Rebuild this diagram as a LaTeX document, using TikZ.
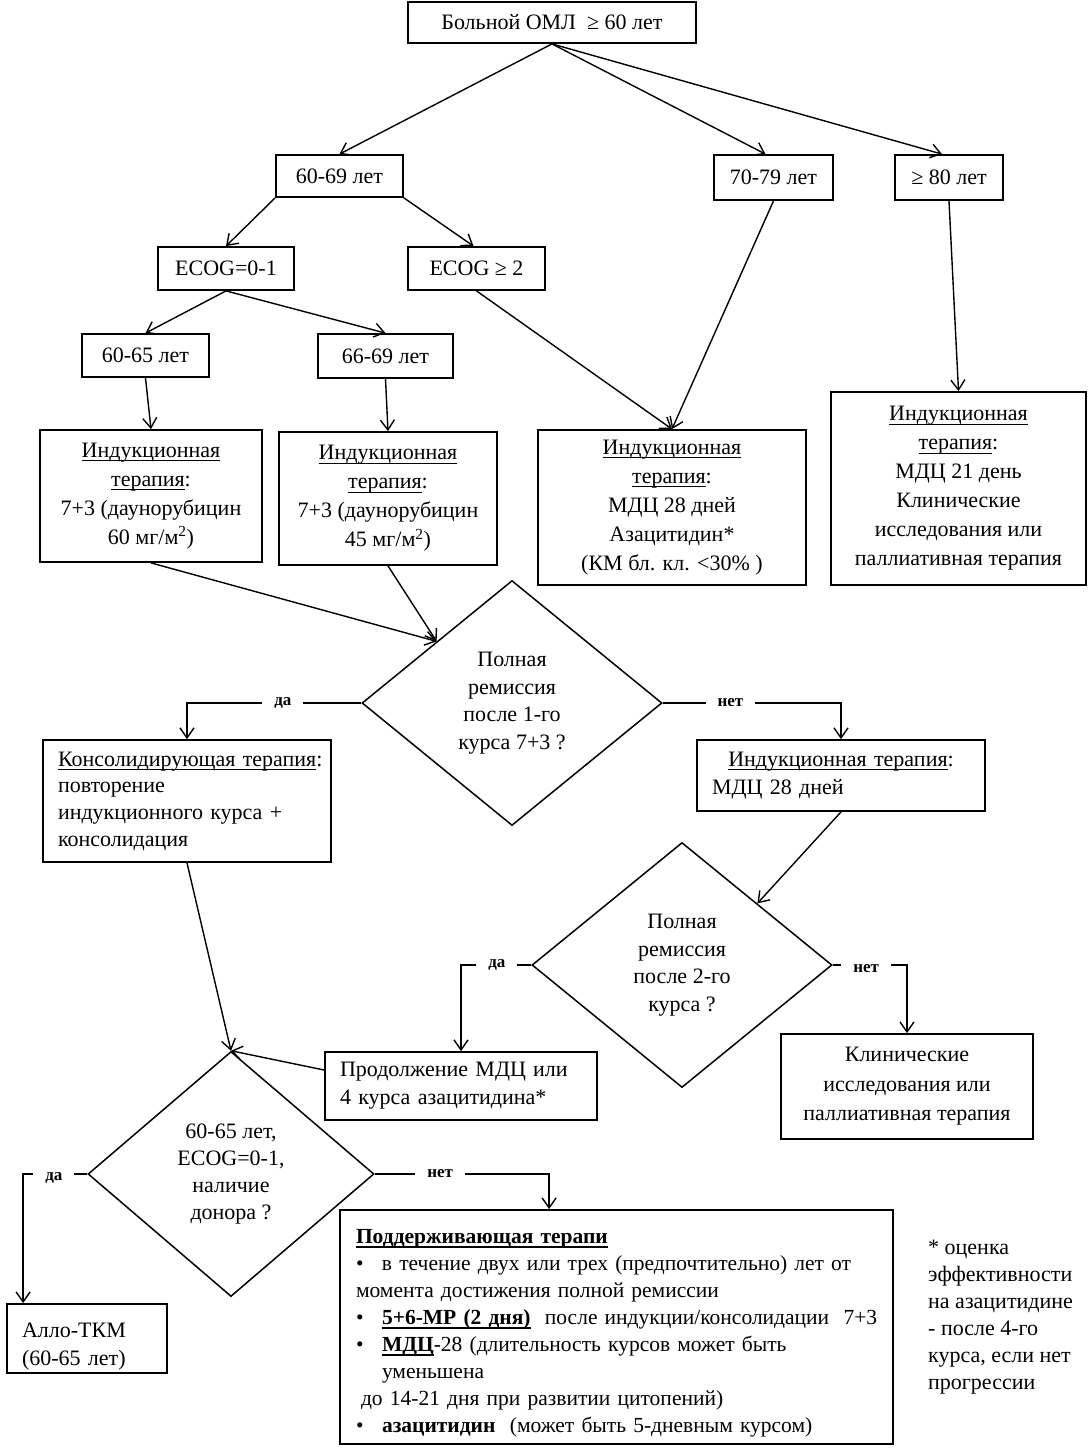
\documentclass[tikz,border=0pt]{standalone}
\usepackage{fontspec}
\setmainfont{Liberation Serif}
\usetikzlibrary{shapes.geometric,arrows.meta}
\newsavebox\undlbox
\newcommand\undl[1]{\sbox\undlbox{#1}\rlap{\rule[-4pt]{\wd\undlbox}{1.1pt}}\usebox\undlbox}
\newcommand\undlb[1]{\sbox\undlbox{#1}\rlap{\rule[-4.4pt]{\wd\undlbox}{1.6pt}}\usebox\undlbox}
\tikzset{
  box/.style={draw, line width=1.8pt, rectangle, inner sep=0pt, align=center,
    font=\fontsize{22}{29}\selectfont},
  dia/.style={draw, diamond, line width=1.5pt, inner sep=0pt, align=center,
    font=\fontsize{22}{27.5}\selectfont},
  conn/.style={line width=1.4pt, -{Straight Barb[length=10pt,width=14pt]}},
  yn/.style={line width=2pt, line join=miter, -{Straight Barb[length=10pt,width=14pt,line width=1.4pt]}},
  lbl/.style={fill=white, inner xsep=12pt, inner ysep=1pt,
    font=\fontsize{17}{17}\selectfont\bfseries},
}
\begin{document}
\begin{tikzpicture}[x=1pt,y=-1pt]
\useasboundingbox (0,0) rectangle (1090,1452);
% top level
\node[box, minimum width=288pt, minimum height=41pt] (top) at (552,22.5) {Больной ОМЛ\ \ ≥ 60 лет};
\node[box, minimum width=127pt, minimum height=42pt] (a6069) at (339.5,176) {60-69 лет};
\node[box, minimum width=119pt, minimum height=45pt] (a7079) at (773.5,177.5) {70-79 лет};
\node[box, minimum width=108pt, minimum height=45pt] (a80) at (949,177.5) {≥ 80 лет};
\node[box, minimum width=136pt, minimum height=43pt] (ecog01) at (226,268.5) {ECOG=0-1};
\node[box, minimum width=137pt, minimum height=43pt] (ecog2) at (476.5,268.5) {ECOG ≥ 2};
\node[box, minimum width=127pt, minimum height=43pt] (a6065) at (145.5,355.5) {60-65 лет};
\node[box, minimum width=135pt, minimum height=44pt] (a6669) at (385.5,356) {66-69 лет};
% induction boxes
\node[box, minimum width=222pt, minimum height=132pt] (ind1) at (151,496)
  {\undl{Индукционная}\\\undl{терапия}:\\7+3 (даунорубицин\\60 мг/м\textsuperscript{2})};
\node[box, minimum width=218pt, minimum height=133pt] (ind2) at (388,498.5)
  {\undl{Индукционная}\\\undl{терапия}:\\7+3 (даунорубицин\\45 мг/м\textsuperscript{2})};
\node[box, minimum width=268pt, minimum height=155pt] (ind3) at (672,507.5)
  {\undl{Индукционная}\\\undl{терапия}:\\МДЦ 28 дней\\Азацитидин*\\(КМ бл. кл. <30\% )};
\node[box, minimum width=255pt, minimum height=193pt] (ind4) at (958.5,488.5)
  {\undl{Индукционная}\\\undl{терапия}:\\МДЦ 21 день\\Клинические\\исследования или\\паллиативная терапия};
% first decision
\node[dia, minimum width=300pt, minimum height=245pt] (d1) at (512,703)
  {Полная\\ремиссия\\после 1-го\\курса 7+3 ?};
\node[box, minimum width=288pt, minimum height=122pt, text width=258pt, inner xsep=15pt,
  align=left, font=\fontsize{22}{26.7}\selectfont] (cons) at (187,801)
  {\mbox{\undl{Консолидирующая терапия}:}\\повторение\\\mbox{индукционного курса +}\\консолидация};
\node[box, minimum width=288pt, minimum height=71pt, text width=258pt, inner xsep=15pt,
  align=left, font=\fontsize{22}{28}\selectfont] (indm) at (841,775.5)
  {\makebox[258pt][c]{\undl{Индукционная терапия}:}\\МДЦ 28 дней};
% second decision
\node[dia, minimum width=300pt, minimum height=245pt] (d2) at (682,965)
  {Полная\\ремиссия\\после 2-го\\курса ?};
\node[box, minimum width=272pt, minimum height=68pt, text width=242pt, inner xsep=15pt,
  align=left, font=\fontsize{22}{28}\selectfont] (prod) at (461,1086)
  {\mbox{Продолжение МДЦ или}\\\mbox{4 курса азацитидина*}};
\node[box, minimum width=252pt, minimum height=105pt, font=\fontsize{22}{29.5}\selectfont] (clin) at (907,1086.5)
  {Клинические\\исследования или\\паллиативная терапия};
% third decision
\node[dia, minimum width=286pt, minimum height=245pt, font=\fontsize{22}{26.7}\selectfont] (d3) at (231,1174)
  {60-65 лет,\\ECOG=0-1,\\наличие\\донора ?};
\node[box, minimum width=160pt, minimum height=69pt, text width=130pt, inner xsep=15pt,
  align=left, font=\fontsize{22}{28}\selectfont] (allo) at (87,1338.5)
  {\rule{0pt}{31pt}Алло-ТКМ\\(60-65 лет)};
\node[box, minimum width=553pt, minimum height=234pt, text width=521pt, inner xsep=16pt,
  align=left, font=\fontsize{21.5}{27}\selectfont] (supp) at (616.5,1327)
  {\mbox{\rule{0pt}{26pt}\textbf{\undlb{Поддерживающая терапи}}}\\
   \mbox{\makebox[26pt][l]{•}в течение двух или трех (предпочтительно) лет от}\\
   \mbox{момента достижения полной ремиссии}\\
   \mbox{\makebox[26pt][l]{•}\textbf{\undlb{5+6-МР (2 дня)}}\ \ после индукции/консолидации\ \ 7+3}\\
   \mbox{\makebox[26pt][l]{•}\textbf{\undlb{МДЦ}}-28 (длительность курсов может быть}\\
   \mbox{\hspace*{26pt}уменьшена}\\
   \mbox{\hspace*{5pt}до 14-21 дня при развитии цитопений)}\\
   \mbox{\makebox[26pt][l]{•}\textbf{азацитидин}\ \ (может быть 5-дневным курсом)}};
\node[align=left, anchor=north west, inner sep=0pt, font=\fontsize{22}{27}\selectfont] (note) at (928,1240)
  {* оценка\\эффективности\\на азацитидине\\- после 4-го\\курса, если нет\\прогрессии};
% connectors
\draw[conn] (top.south) -- (a6069.north);
\draw[conn] (top.south) -- ([xshift=-8pt]a7079.north);
\draw[conn] (top.south) -- ([xshift=-7pt]a80.north);
\draw[conn] (a6069.south west) -- (ecog01.north);
\draw[conn] (a6069.south east) -- ([xshift=-3pt]ecog2.north);
\draw[conn] (ecog01.south) -- (a6065.north);
\draw[conn] (ecog01.south) -- (a6669.north);
\draw[conn] (a6065.south) -- (ind1.north);
\draw[conn] (a6669.south) -- (ind2.north);
\draw[conn] (ecog2.south) -- (ind3.north);
\draw[conn] (a7079.south) -- (ind3.north);
\draw[conn] (a80.south) -- (ind4.north);
\draw[conn] (ind1.south) -- (d1.north west);
\draw[conn] (ind2.south) -- (d1.north west);
\draw[yn] (d1.west) -- node[lbl,pos=0.45]{да} (d1.west -| cons.north) -- (cons.north);
\draw[yn] (d1.east) -- node[lbl,pos=0.38]{нет} (d1.east -| indm.north) -- (indm.north);
\draw[conn] (indm.south) -- (d2.north east);
\draw[yn] (d2.west) -- node[lbl,pos=0.49]{да} (d2.west -| prod.north) -- (prod.north);
\draw[yn] (d2.east) -- node[lbl,pos=0.45,yshift=-4pt]{нет} (d2.east -| clin.north) -- (clin.north);
\draw[conn] (cons.south) -- (d3.north);
\draw[conn] ([yshift=16pt]prod.west) -- (d3.north);
\coordinate (alloin) at ([xshift=17pt]allo.north west);
\draw[yn] (d3.west) -- node[lbl,pos=0.52,yshift=-4pt]{да} (d3.west -| alloin) -- (alloin);
\coordinate (suppin) at ([xshift=210pt]supp.north west);
\draw[yn] (d3.east) -- node[lbl,pos=0.375]{нет} (d3.east -| suppin) -- (suppin);
\end{tikzpicture}
\end{document}
